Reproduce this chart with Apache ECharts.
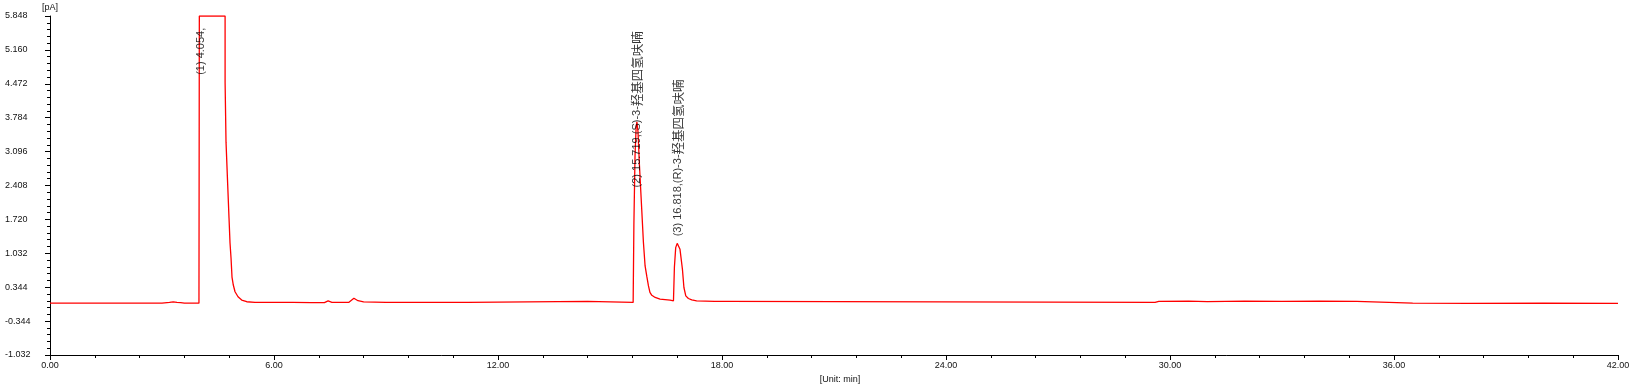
<!DOCTYPE html>
<html>
<head>
<meta charset="utf-8">
<script src="https://cdn.jsdelivr.net/npm/echarts@6/dist/echarts.min.js"></script>
<style>
html,body{margin:0;padding:0;background:#fff;}
#chart{width:1636px;height:390px;}
</style>
</head>
<body>
<div id="chart"></div>
<script>
// Retention time (min)
var times = [
  0.00, 1.00, 2.00, 3.00, 3.20, 3.30, 3.40, 3.50, 3.60, 3.99,
  4.00, 4.69, 4.69, 4.715, 4.76, 4.795, 4.822, 4.849, 4.875, 4.91,
  4.956, 5.036, 5.135, 5.269, 5.49, 6.50, 7.00, 7.35, 7.45, 7.55,
  8.00, 8.14, 8.25, 8.40, 9.00, 11.20, 11.25, 14.40, 14.45, 15.62,
  15.64, 15.67, 15.70, 15.72, 15.75, 15.79, 15.85, 15.895, 15.94, 15.985,
  16.03, 16.07, 16.12, 16.21, 16.34, 16.61, 16.70, 16.715, 16.725, 16.76,
  16.80, 16.83, 16.875, 16.94, 16.98, 17.03, 17.10, 17.19, 17.32, 17.80,
  18.16, 18.20, 29.60, 29.70, 30.50, 31.00, 32.00, 33.00, 34.00, 35.00,
  35.05, 36.50, 38.00, 40.00, 42.00
];
// Detector signal (pA)
var signal = [
  0.020, 0.020, 0.020, 0.020, 0.035, 0.045, 0.035, 0.030, 0.020, 0.020,
  5.848, 5.848, 4.505, 3.288, 2.416, 1.747, 1.240, 0.936, 0.550, 0.388,
  0.252, 0.150, 0.084, 0.049, 0.035, 0.035, 0.030, 0.030, 0.065, 0.035,
  0.035, 0.120, 0.070, 0.045, 0.035, 0.035, 0.055, 0.055, 0.035, 0.035,
  1.620, 3.000, 3.600, 3.700, 3.500, 2.800, 1.920, 1.255, 0.775, 0.567,
  0.370, 0.240, 0.180, 0.136, 0.100, 0.080, 0.067, 0.065, 0.750, 1.147,
  1.234, 1.200, 1.113, 0.708, 0.338, 0.168, 0.115, 0.087, 0.067, 0.055,
  0.055, 0.035, 0.035, 0.055, 0.060, 0.050, 0.060, 0.055, 0.060, 0.055,
  0.015, 0.020, 0.015, 0.020, 0.015
];
// Peak annotations
var peakTimes = [4.054, 15.719, 16.818];
var labelBase = [4.654, 2.368, 1.376];
var peakLabels = ["(1) 4.054,", "(2) 15.719,(S)-3-羟基四氢呋喃", "(3) 16.818,(R)-3-羟基四氢呋喃"];

var yMin = -1.032, yMax = 5.848, yStep = 0.688;
var xMin = 0, xMax = 42, xStep = 6;

var lineData = times.map(function (t, i) { return [t, signal[i]]; });
var labelData = peakTimes.map(function (t, i) { return [t, labelBase[i], peakLabels[i]]; });

var chart = echarts.init(document.getElementById('chart'), null, {renderer: 'canvas'});
chart.setOption({
  animation: false,
  backgroundColor: '#ffffff',
  grid: {left: 50, right: 18, top: 16, bottom: 35, containLabel: false},
  xAxis: {
    type: 'value', min: xMin, max: xMax, interval: xStep,
    name: '[Unit: min]', nameLocation: 'middle', nameGap: 18,
    nameTextStyle: {color: '#111', fontSize: 9, fontFamily: 'Liberation Sans, Arial, sans-serif', padding: [0, 0, 0, 12]},
    axisLine: {show: true, onZero: false, lineStyle: {color: '#000', width: 1}},
    axisTick: {show: true, length: 5, lineStyle: {color: '#000'}},
    minorTick: {show: true, splitNumber: 5, length: 3, lineStyle: {color: '#000'}},
    splitLine: {show: false},
    axisLabel: {color: '#111', fontSize: 9, fontFamily: 'Liberation Sans, Arial, sans-serif', margin: 6,
      formatter: function (v) { return v.toFixed(2); }}
  },
  yAxis: {
    type: 'value', min: yMin, max: yMax, interval: yStep,
    name: '[pA]', nameLocation: 'end', nameGap: 4,
    nameTextStyle: {color: '#111', fontSize: 9, fontFamily: 'Liberation Sans, Arial, sans-serif', align: 'center'},
    axisLine: {show: true, onZero: false, lineStyle: {color: '#000', width: 1}},
    axisTick: {show: true, length: 5, lineStyle: {color: '#000'}},
    minorTick: {show: true, splitNumber: 5, length: 3, lineStyle: {color: '#000'}},
    splitLine: {show: false},
    axisLabel: {color: '#111', fontSize: 9, fontFamily: 'Liberation Sans, Arial, sans-serif', margin: 45, align: 'left',
      formatter: function (v) { return v.toFixed(3); }}
  },
  series: [
    {
      type: 'line', data: lineData, showSymbol: false, symbol: 'none',
      lineStyle: {color: '#ff0000', width: 1.3}, itemStyle: {color: '#ff0000'},
      clip: true, z: 2, silent: true
    },
    {
      type: 'scatter', data: labelData, symbolSize: 0, silent: true, z: 3,
      label: {
        show: true, position: [0, 0], rotate: 90, align: 'left', verticalAlign: 'middle',
        color: '#000', fontSize: 11, fontFamily: 'Liberation Sans, Arial, sans-serif',
        formatter: function (p) {
          return p.value[2].replace(/([\u4e00-\u9fff]+)/g, '{c|$1}');
        },
        rich: {
          c: {fontSize: 12.5, fontFamily: 'Noto Sans CJK SC', color: '#000'}
        }
      }
    }
  ]
});
</script>
</body>
</html>
